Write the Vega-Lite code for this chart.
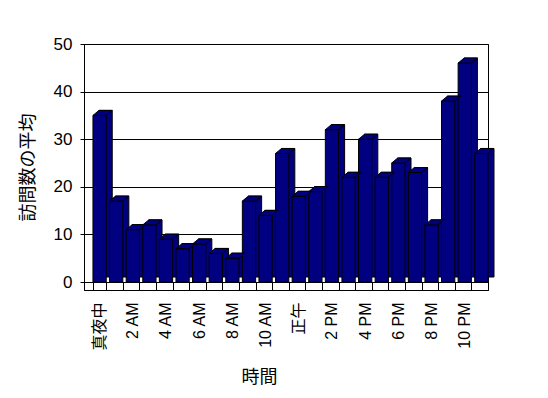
{
  "$schema": "https://vega.github.io/schema/vega-lite/v6.json",
  "width": 404,
  "height": 246,
  "autosize": "none",
  "padding": {"left": 84, "top": 44, "right": 60, "bottom": 108},
  "background": "white",
  "config": {
    "view": {"stroke": "black", "strokeWidth": 1},
    "font": "Liberation Sans, Noto Sans CJK JP"
  },
  "data": {
    "values": [
      {"hour": 0, "visits": 35}, {"hour": 1, "visits": 17}, {"hour": 2, "visits": 11},
      {"hour": 3, "visits": 12}, {"hour": 4, "visits": 9}, {"hour": 5, "visits": 7},
      {"hour": 6, "visits": 8}, {"hour": 7, "visits": 6}, {"hour": 8, "visits": 5},
      {"hour": 9, "visits": 17}, {"hour": 10, "visits": 14}, {"hour": 11, "visits": 27},
      {"hour": 12, "visits": 18}, {"hour": 13, "visits": 19}, {"hour": 14, "visits": 32},
      {"hour": 15, "visits": 22}, {"hour": 16, "visits": 30}, {"hour": 17, "visits": 22},
      {"hour": 18, "visits": 25}, {"hour": 19, "visits": 23}, {"hour": 20, "visits": 12},
      {"hour": 21, "visits": 38}, {"hour": 22, "visits": 46}, {"hour": 23, "visits": 27}
    ]
  },
  "encoding": {
    "x": {
      "field": "hour",
      "type": "ordinal",
      "scale": {"paddingInner": 0.2, "paddingOuter": 0.27, "align": 1},
      "axis": {
        "title": "時間",
        "titleFont": "Noto Sans CJK JP",
        "titleFontSize": 18,
        "titleFontWeight": "normal",
        "titleColor": "black",
        "titlePadding": 18,
        "titleX": 175,
        "labelAngle": 270,
        "labelFont": "Liberation Sans, Noto Sans CJK JP",
        "labelFontSize": 16,
        "labelColor": "black",
        "labelPadding": 20,
        "labelExpr": "isNumber(datum.value) && datum.value % 2 == 0 ? (datum.value == 0 ? '真夜中' : datum.value == 12 ? '正午' : (datum.value % 12) + (datum.value < 12 ? ' AM' : ' PM')) : ''",
        "labelOverlap": false,
        "tickBand": "extent",
        "tickSize": -8,
        "tickColor": "black",
        "domainColor": "black",
        "grid": false
      }
    },
    "y": {
      "field": "visits",
      "type": "quantitative",
      "scale": {"domain": [-1.68, 50], "nice": false, "zero": false},
      "axis": {
        "title": "訪問数の平均",
        "titleFont": "Noto Sans CJK JP",
        "titleFontSize": 18,
        "titleFontWeight": "normal",
        "titleColor": "black",
        "titlePadding": 16,
        "values": [0, 10, 20, 30, 40, 50],
        "labelFontSize": 17,
        "labelColor": "black",
        "labelPadding": 8,
        "tickSize": 4,
        "tickColor": "black",
        "domainColor": "black",
        "grid": true,
        "gridColor": "black",
        "gridOpacity": 1
      }
    }
  },
  "layer": [
    {
      "mark": {"type": "bar", "fill": "#000080", "stroke": "black", "strokeWidth": 1, "xOffset": 6, "yOffset": -5}
    },
    {
      "mark": {"type": "bar", "fill": "#000080", "stroke": "black", "strokeWidth": 1}
    },
    {
      "mark": {
        "type": "point",
        "shape": "M-0.664,0L0.664,0L1.264,-0.5L-0.064,-0.5Z",
        "size": 400,
        "filled": true,
        "fill": "#000080",
        "stroke": "black",
        "strokeWidth": 1,
        "opacity": 1
      }
    }
  ]
}
